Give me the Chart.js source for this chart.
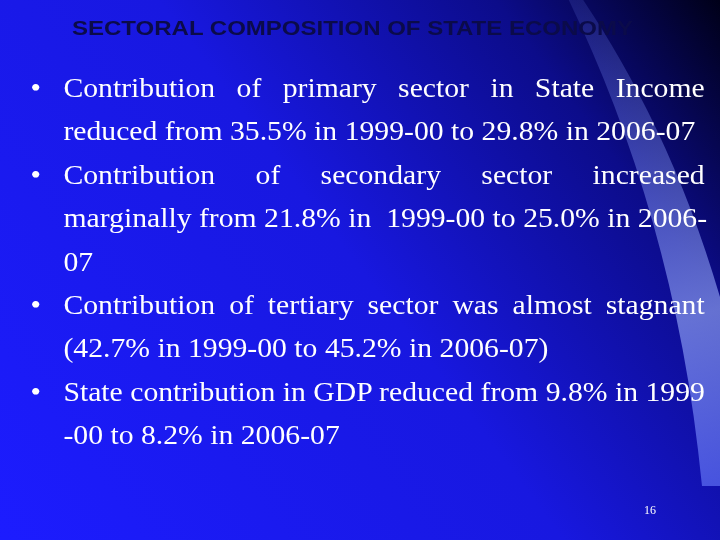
<!DOCTYPE html>
<html><head><meta charset="utf-8">
<script src="https://cdn.jsdelivr.net/npm/chart.js@4"></script>
<style>
html,body{margin:0;padding:0;}
#slide{position:relative;width:720px;height:540px;overflow:hidden;}
#bg{position:absolute;left:0;top:0;}
#title{position:absolute;left:72px;top:17px;white-space:nowrap;font:bold 20px "Liberation Sans",Arial,sans-serif;color:#0b0b4a;transform-origin:0 0;transform:scaleX(1.2);}
ul{position:absolute;left:26px;top:67px;width:617px;margin:0;padding:0;list-style:none;font:27px "Liberation Serif","Times New Roman",serif;color:#fff;line-height:43.4px;transform-origin:0 0;transform:scaleX(1.1);}
li{position:relative;padding-left:34px;}
li:before{content:"•";position:absolute;left:4px;}
li div{white-space:nowrap;}
#num{position:absolute;left:644px;top:503px;font:12px "Liberation Serif",serif;color:#fff;}
</style></head><body>
<div id="slide">
<canvas id="bg" width="720" height="540"></canvas>
<div id="title">SECTORAL COMPOSITION OF STATE ECONOMY</div>
<ul id="pts"></ul>
<div id="num">16</div>
</div>
<script>
const years = ['1999-00', '2006-07'];
const primary = [35.5, 29.8];
const secondary = [21.8, 25.0];
const tertiary = [42.7, 45.2];
const gdpShare = [9.8, 8.2];

const pts = [
  `Contribution of primary sector in State Income<br>reduced from ${primary[0].toFixed(1)}% in ${years[0]} to ${primary[1].toFixed(1)}% in ${years[1]}`,
  `Contribution of secondary sector increased<br>marginally from ${secondary[0].toFixed(1)}% in&nbsp; ${years[0]} to ${secondary[1].toFixed(1)}% in 2006-<br>07`,
  `Contribution of tertiary sector was almost stagnant<br>(${tertiary[0].toFixed(1)}% in ${years[0]} to ${tertiary[1].toFixed(1)}% in ${years[1]})`,
  `State contribution in GDP reduced from ${gdpShare[0].toFixed(1)}% in 1999<br>-00 to ${gdpShare[1].toFixed(1)}% in ${years[1]}`
];
document.getElementById('pts').innerHTML = pts.map(p => {
  const lines = p.split('<br>');
  return '<li>' + lines.map((l, i) =>
    `<div style="text-align:${i < lines.length - 1 ? 'justify;text-align-last:justify' : 'left'}">${l}</div>`).join('') + '</li>';
}).join('');

// background painted through a Chart.js plugin
const bgPlugin = {
  id: 'slideBg',
  beforeDraw(chart) {
    const c = chart.ctx, w = chart.width, h = chart.height;
    let g = c.createLinearGradient(0, h, w, 0);
    g.addColorStop(0, '#1c1cff');
    g.addColorStop(0.5, '#1818e0');
    g.addColorStop(0.8, '#0c0c8a');
    g.addColorStop(1, '#000018');
    c.fillStyle = g;
    c.fillRect(0, 0, w, h);
    c.save();
    c.beginPath();
    c.moveTo(w * 0.79, 0);
    c.bezierCurveTo(w * 0.88, h * 0.25, w * 0.95, h * 0.55, w * 0.975, h * 0.9);
    c.lineTo(w, h * 0.9);
    c.lineTo(w, h * 0.55);
    c.bezierCurveTo(w * 0.95, h * 0.32, w * 0.88, h * 0.14, w * 0.81, 0);
    c.closePath();
    let s = c.createLinearGradient(w * 0.8, 0, w, h);
    s.addColorStop(0, 'rgba(120,140,255,0.15)');
    s.addColorStop(0.6, 'rgba(160,180,255,0.6)');
    s.addColorStop(1, 'rgba(90,110,255,0.6)');
    c.fillStyle = s;
    c.fill();
    c.restore();
  }
};

new Chart(document.getElementById('bg'), {
  type: 'bar',
  data: { labels: years, datasets: [{ data: [], backgroundColor: 'transparent' }] },
  options: {
    responsive: false,
    animation: false,
    plugins: { legend: { display: false }, tooltip: { enabled: false } },
    scales: { x: { display: false }, y: { display: false } }
  },
  plugins: [bgPlugin]
});
</script>
</body></html>
